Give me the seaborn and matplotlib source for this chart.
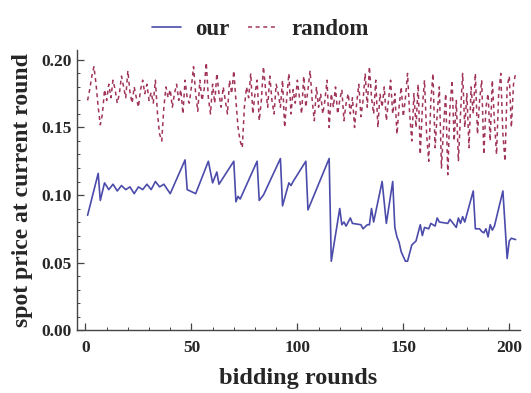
import matplotlib
matplotlib.use("Agg")
import matplotlib.pyplot as plt
import seaborn as sns
import pandas as pd
import numpy as np
from matplotlib.ticker import MultipleLocator, FormatStrFormatter

# ---- data ----
our_rounds = [1, 6, 7, 9, 11, 13, 15, 17, 19, 21, 23, 25, 27, 29, 31, 33, 35, 37, 40,
              47, 48, 52, 58, 60, 62, 63, 70, 71, 72, 73, 81, 82, 84, 92, 93, 96, 97, 98,
              104, 105, 115, 116, 120, 121, 122, 123, 125, 126, 130, 131, 133, 134, 135,
              136, 140, 142, 145, 146, 147, 148, 149, 151, 152, 154, 156, 158, 159, 160,
              162, 163, 165, 166, 167, 171, 172, 174, 175, 176, 177, 178, 179, 183, 184,
              186, 187, 188, 189, 190, 191, 192, 193, 197, 199, 200, 201, 203]
our_price = [0.085, 0.116, 0.096, 0.109, 0.104, 0.108, 0.103, 0.107, 0.104, 0.106, 0.101,
             0.106, 0.104, 0.108, 0.104, 0.110, 0.106, 0.108, 0.101,
             0.126, 0.104, 0.101, 0.125, 0.109, 0.117, 0.108, 0.125, 0.095, 0.099, 0.097,
             0.125, 0.096, 0.100, 0.127, 0.092, 0.109, 0.107, 0.110,
             0.125, 0.089, 0.127, 0.051, 0.090, 0.078, 0.080, 0.077, 0.083, 0.079, 0.078,
             0.075, 0.078, 0.078, 0.090,
             0.080, 0.110, 0.079, 0.110, 0.076, 0.069, 0.065, 0.058, 0.051, 0.051, 0.063,
             0.066, 0.078, 0.070, 0.076,
             0.075, 0.079, 0.077, 0.083, 0.080, 0.079, 0.082, 0.078, 0.076, 0.083, 0.079,
             0.084, 0.080, 0.103, 0.075,
             0.075, 0.073, 0.072, 0.075, 0.069, 0.078, 0.074, 0.077, 0.103, 0.053, 0.066,
             0.068, 0.067]

random_price = [
    0.170, 0.178, 0.188, 0.195, 0.182, 0.165, 0.152, 0.160, 0.178, 0.170,
    0.182, 0.172, 0.185, 0.178, 0.168, 0.175, 0.188, 0.180, 0.172, 0.192,
    0.176, 0.168, 0.180, 0.172, 0.165, 0.178, 0.185, 0.175, 0.182, 0.170,
    0.176, 0.168, 0.185, 0.160, 0.145, 0.140, 0.165, 0.180, 0.172, 0.178,
    0.165, 0.175, 0.182, 0.170, 0.178, 0.160, 0.185, 0.172, 0.168, 0.180,
    0.195, 0.175, 0.162, 0.185, 0.170, 0.178, 0.198, 0.172, 0.160, 0.182,
    0.168, 0.190, 0.175, 0.165, 0.180, 0.170, 0.160, 0.185, 0.175, 0.192,
    0.170, 0.150, 0.140, 0.135, 0.165, 0.180, 0.172, 0.190, 0.160, 0.175,
    0.185, 0.155, 0.170, 0.195, 0.178, 0.165, 0.188, 0.170, 0.160, 0.182,
    0.175, 0.165, 0.185, 0.150, 0.172, 0.190, 0.160, 0.178, 0.168, 0.185,
    0.172, 0.160, 0.188, 0.165, 0.178, 0.192, 0.170, 0.155, 0.180, 0.165,
    0.175, 0.160, 0.170, 0.185, 0.150, 0.175, 0.165, 0.180, 0.160, 0.170,
    0.178, 0.155, 0.168, 0.175, 0.160, 0.172, 0.150, 0.168, 0.182, 0.158,
    0.170, 0.190, 0.165, 0.195, 0.172, 0.160, 0.185, 0.150, 0.175, 0.165,
    0.180, 0.155, 0.170, 0.185, 0.160, 0.175, 0.145, 0.165, 0.180, 0.158,
    0.172, 0.190, 0.160, 0.140, 0.175, 0.150, 0.182, 0.130, 0.165, 0.185,
    0.145, 0.125, 0.170, 0.190, 0.135, 0.160, 0.180, 0.120, 0.150, 0.175,
    0.115, 0.165, 0.185, 0.140, 0.170, 0.125, 0.160, 0.190, 0.150, 0.175,
    0.135, 0.180, 0.160, 0.190, 0.145, 0.170, 0.185, 0.130, 0.165, 0.175,
    0.140, 0.185, 0.155, 0.130, 0.175, 0.190, 0.145, 0.125, 0.180, 0.188,
    0.150, 0.182, 0.190]
random_rounds = list(range(1, len(random_price) + 1))

x_ticks = [0, 50, 100, 150, 200]
y_ticks = [0.00, 0.05, 0.10, 0.15, 0.20]

# ---- styling ----
sns.set_style("white")
plt.rcParams["font.family"] = ["Liberation Serif", "DejaVu Serif"]
plt.rcParams["font.weight"] = "bold"

BLUE = "#4b4bab"
RED = "#a0345a"
DASH = (0, (2.6, 2.4))

df_our = pd.DataFrame({"round": our_rounds, "price": our_price})
df_rand = pd.DataFrame({"round": random_rounds, "price": random_price})

fig = plt.figure(figsize=(5.31, 3.93), dpi=100)
ax = fig.add_axes([0.145, 0.160, 0.834, 0.713])

sns.lineplot(data=df_our, x="round", y="price", ax=ax, color=BLUE, lw=1.2,
             estimator=None, sort=False, label="our")
sns.lineplot(data=df_rand, x="round", y="price", ax=ax, color=RED, lw=1.1,
             estimator=None, sort=False, label="random", dashes=False)
ax.lines[-1].set_linestyle(DASH)

ax.set_xlim(-4, 205)
ax.set_ylim(0, 0.2074)
ax.set_xticks(x_ticks)
ax.set_yticks(y_ticks)
ax.xaxis.set_minor_locator(MultipleLocator(10))
ax.yaxis.set_minor_locator(MultipleLocator(0.01))
ax.yaxis.set_major_formatter(FormatStrFormatter("%.2f"))

for s in ["top", "right"]:
    ax.spines[s].set_visible(False)
for s in ["left", "bottom"]:
    ax.spines[s].set_color("#444444")
    ax.spines[s].set_linewidth(1.0)

ax.tick_params(axis="both", which="both", bottom=True, left=True, top=False, right=False)
ax.tick_params(axis="both", which="major", direction="in", length=5, width=0.9,
               color="#444444", labelsize=12.5)
ax.tick_params(axis="both", which="minor", direction="in", length=2.5, width=0.7,
               color="#444444")
ax.tick_params(axis="x", which="major", pad=7)
ax.tick_params(axis="y", which="major", pad=4)
for lab in ax.get_xticklabels() + ax.get_yticklabels():
    lab.set_fontweight("bold")

ax.set_xlabel("bidding rounds", fontsize=17.5, fontweight="bold", labelpad=9)
ax.set_ylabel("spot price at current round", fontsize=17, fontweight="bold", labelpad=6)

handles, labels = ax.get_legend_handles_labels()
handles[1].set_linestyle(DASH)
leg = ax.legend(handles, labels, loc="upper center", bbox_to_anchor=(0.49, 1.005),
                bbox_transform=fig.transFigure, ncol=2, frameon=False,
                prop={"family": "Liberation Serif", "weight": "bold", "size": 16.5},
                handlelength=1.3, columnspacing=0.8, handletextpad=0.6)

fig.savefig("out.png", dpi=100)
